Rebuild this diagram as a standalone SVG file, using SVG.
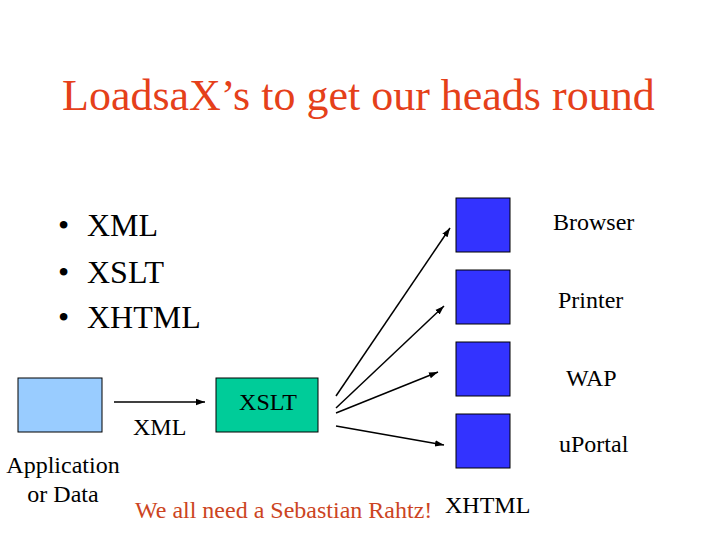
<svg xmlns="http://www.w3.org/2000/svg" width="720" height="540" viewBox="0 0 720 540">
<defs>
<style>
.t{font-family:'Liberation Serif', 'Times New Roman', Times, serif}
.title{font-size:44px;fill:#E5401A}
.bul{font-size:32px;fill:#000}
.lbl{font-size:24px;fill:#000}
.red{font-size:24px;fill:#CC4422}
.out{fill:#3333FF;stroke:#000;stroke-width:1}
.conn line{stroke:#000;stroke-width:1.5;marker-end:url(#ah)}
</style>
<marker id="ah" viewBox="0 0 10 10" refX="10" refY="5" markerWidth="6" markerHeight="6" markerUnits="strokeWidth" orient="auto">
<path d="M0,1.5 L10,5 L0,8.5 Z" fill="#000"/>
</marker>
</defs>
<rect width="720" height="540" fill="#fff"/>
<text class="t title" x="62" y="110">LoadsaX’s to get our heads round</text>
<g id="bullets">
<text class="t bul" x="58" y="236">•<tspan x="87">XML</tspan></text>
<text class="t bul" x="58" y="283">•<tspan x="87">XSLT</tspan></text>
<text class="t bul" x="58" y="328">•<tspan x="87">XHTML</tspan></text>
</g>
<g id="app">
<rect x="18" y="378" width="84" height="54" fill="#99CCFF" stroke="#000" stroke-width="1"/>
<text class="t lbl" x="63" y="473" text-anchor="middle">Application</text>
<text class="t lbl" x="63" y="502" text-anchor="middle">or Data</text>
</g>
<g id="xslt">
<rect x="216" y="378" width="102" height="54" fill="#00CC99" stroke="#000" stroke-width="1"/>
<text class="t lbl" x="268" y="410" text-anchor="middle">XSLT</text>
</g>
<g id="browser"><rect class="out" x="456" y="198" width="54" height="54"/><text class="t lbl" x="553" y="230">Browser</text></g>
<g id="printer"><rect class="out" x="456" y="270" width="54" height="54"/><text class="t lbl" x="558" y="308">Printer</text></g>
<g id="wap"><rect class="out" x="456" y="342" width="54" height="54"/><text class="t lbl" x="566" y="386">WAP</text></g>
<g id="uportal"><rect class="out" x="456" y="414" width="54" height="54"/><text class="t lbl" x="559" y="452">uPortal</text></g>
<g class="conn" id="connectors">
<line x1="114" y1="402" x2="205" y2="402"/>
<line x1="336" y1="396" x2="450" y2="228"/>
<line x1="336" y1="408" x2="444" y2="306"/>
<line x1="336" y1="413" x2="438" y2="372"/>
<line x1="336" y1="426" x2="444" y2="445"/>
</g>
<text class="t lbl" x="133" y="435">XML</text>
<text class="t red" x="135" y="518">We all need a Sebastian Rahtz!</text>
<text class="t lbl" x="445" y="513">XHTML</text>
</svg>
